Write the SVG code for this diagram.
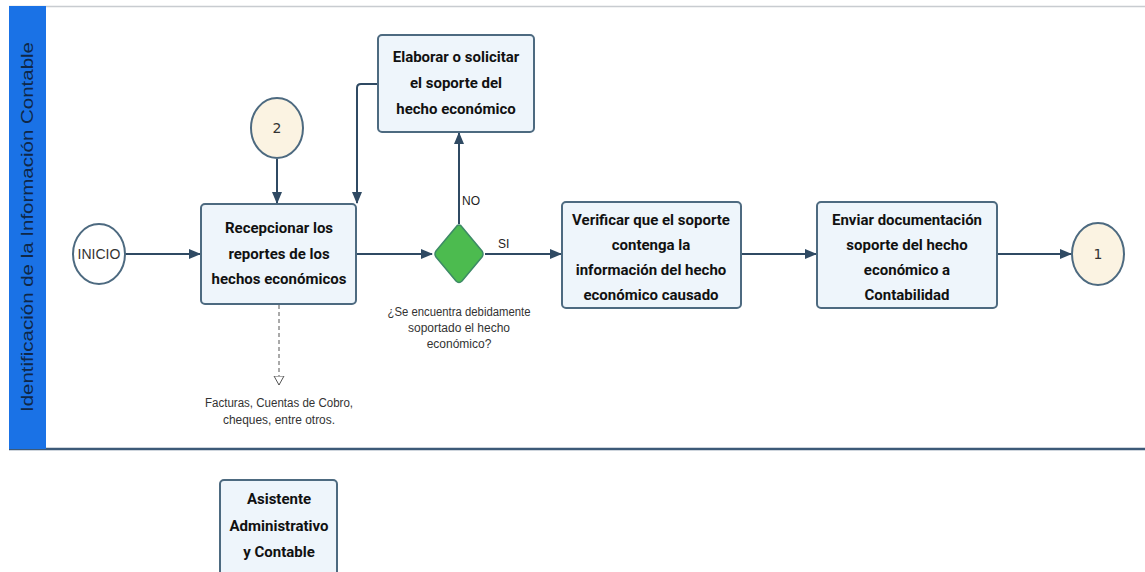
<svg xmlns="http://www.w3.org/2000/svg" width="1145" height="572" viewBox="0 0 1145 572">
<defs>
<style>
.box{fill:#eef5fb;stroke:#4d6a80;stroke-width:2}
.circ{fill:#fbf3e2;stroke:#4d6a80;stroke-width:2}
.bt{font-family:Roboto,"Liberation Sans",sans-serif;font-weight:bold;font-size:15px;fill:#111;text-anchor:middle}
.rt{font-family:"Liberation Sans",Arial,sans-serif;font-size:12px;fill:#333;text-anchor:middle}
.edge{fill:none;stroke:#2f4a63;stroke-width:2}
</style>
<marker id="arr" markerWidth="12" markerHeight="10" refX="11" refY="5" orient="auto" markerUnits="userSpaceOnUse">
<path d="M0,0 L12,5 L0,10 Z" fill="#2f4a63"/>
</marker>
<marker id="open" markerWidth="10" markerHeight="12" refX="9" refY="6" orient="auto" markerUnits="userSpaceOnUse">
<path d="M0,1 L9,6 L0,11 Z" fill="#fff" stroke="#555" stroke-width="1"/>
</marker>
</defs>
<rect width="1145" height="572" fill="#fff"/>
<g id="lane">
<line x1="9" y1="6.5" x2="1145" y2="6.5" stroke="#c8ccd0" stroke-width="1.5"/>
<line x1="9" y1="449" x2="1145" y2="449" stroke="#3d5a78" stroke-width="2.5"/>
<rect x="9" y="6" width="37" height="443" fill="#1a72e6"/>
<text transform="translate(33,227) rotate(-90)" font-family="'Liberation Sans',Arial,sans-serif" font-size="17" fill="#0f2747" text-anchor="middle" textLength="370" lengthAdjust="spacingAndGlyphs">Identificación de la Información Contable</text>
</g>
<g id="edges">
<line class="edge" x1="125" y1="254" x2="200" y2="254" marker-end="url(#arr)"/>
<line class="edge" x1="277" y1="159" x2="277" y2="203" marker-end="url(#arr)"/>
<path class="edge" d="M378,84 L361,84 Q357,84 357,88 L357,203" marker-end="url(#arr)"/>
<line class="edge" x1="357" y1="254" x2="432" y2="254" marker-end="url(#arr)"/>
<line class="edge" x1="459" y1="224" x2="459" y2="133" marker-end="url(#arr)"/>
<line class="edge" x1="485" y1="254" x2="561" y2="254" marker-end="url(#arr)"/>
<line class="edge" x1="742" y1="254" x2="816" y2="254" marker-end="url(#arr)"/>
<line class="edge" x1="998" y1="254" x2="1071" y2="254" marker-end="url(#arr)"/>
<line x1="279" y1="305" x2="279" y2="385" stroke="#555" stroke-width="1" stroke-dasharray="4,3" marker-end="url(#open)"/>
<text x="462" y="205" font-family="'Liberation Sans',Arial,sans-serif" font-size="12" fill="#222">NO</text>
<text x="498" y="248" font-family="'Liberation Sans',Arial,sans-serif" font-size="12" fill="#222">SI</text>
</g>
<g id="inicio">
<ellipse class="circ" cx="99" cy="254" rx="26" ry="30" style="fill:#fff"/>
<text x="99" y="259" font-family="'Liberation Sans',Arial,sans-serif" font-size="14" fill="#333" text-anchor="middle">INICIO</text>
</g>
<g id="conector2">
<ellipse class="circ" cx="277" cy="128" rx="26" ry="30"/>
<text x="277" y="133" font-family="'DejaVu Sans',sans-serif" font-size="14" fill="#333" text-anchor="middle">2</text>
</g>
<g id="recepcionar">
<rect class="box" x="201" y="204" width="155" height="100" rx="4"/>
<text class="bt" x="279" y="233">Recepcionar los</text>
<text class="bt" x="279" y="259">reportes de los</text>
<text class="bt" x="279" y="284">hechos económicos</text>
</g>
<g id="nota">
<text class="rt" x="279" y="407" textLength="148" lengthAdjust="spacingAndGlyphs">Facturas, Cuentas de Cobro,</text>
<text class="rt" x="279" y="424" textLength="112" lengthAdjust="spacingAndGlyphs">cheques, entre otros.</text>
</g>
<g id="elaborar">
<rect class="box" x="378" y="35" width="156" height="97" rx="4"/>
<text class="bt" x="456" y="62">Elaborar o solicitar</text>
<text class="bt" x="456" y="88">el soporte del</text>
<text class="bt" x="456" y="114">hecho económico</text>
</g>
<g id="decision">
<path d="M459,225 Q461,225 462,227 L482,251 Q484,254 482,257 L462,281 Q459,284 456,281 L436,257 Q434,254 436,251 L456,227 Q457,225 459,225 Z" fill="#4cbb4f" stroke="#3d8a66" stroke-width="1.5"/>
<text class="rt" x="459" y="316" textLength="143" lengthAdjust="spacingAndGlyphs">¿Se encuentra debidamente</text>
<text class="rt" x="459" y="332">soportado el hecho</text>
<text class="rt" x="459" y="348">económico?</text>
</g>
<g id="verificar">
<rect class="box" x="562" y="202" width="179" height="106" rx="4"/>
<text class="bt" x="651" y="225">Verificar que el soporte</text>
<text class="bt" x="651" y="250">contenga la</text>
<text class="bt" x="651" y="275">información del hecho</text>
<text class="bt" x="651" y="300">económico causado</text>
</g>
<g id="enviar">
<rect class="box" x="817" y="202" width="180" height="106" rx="4"/>
<text class="bt" x="907" y="225">Enviar documentación</text>
<text class="bt" x="907" y="250">soporte del hecho</text>
<text class="bt" x="907" y="275">económico a</text>
<text class="bt" x="907" y="300">Contabilidad</text>
</g>
<g id="conector1">
<ellipse class="circ" cx="1098" cy="254" rx="26" ry="31"/>
<text x="1098" y="259" font-family="'DejaVu Sans',sans-serif" font-size="14" fill="#333" text-anchor="middle">1</text>
</g>
<g id="asistente">
<rect class="box" x="220" y="480" width="117" height="100" rx="4"/>
<text class="bt" x="279" y="504">Asistente</text>
<text class="bt" x="279" y="531">Administrativo</text>
<text class="bt" x="279" y="557">y Contable</text>
</g>
</svg>
